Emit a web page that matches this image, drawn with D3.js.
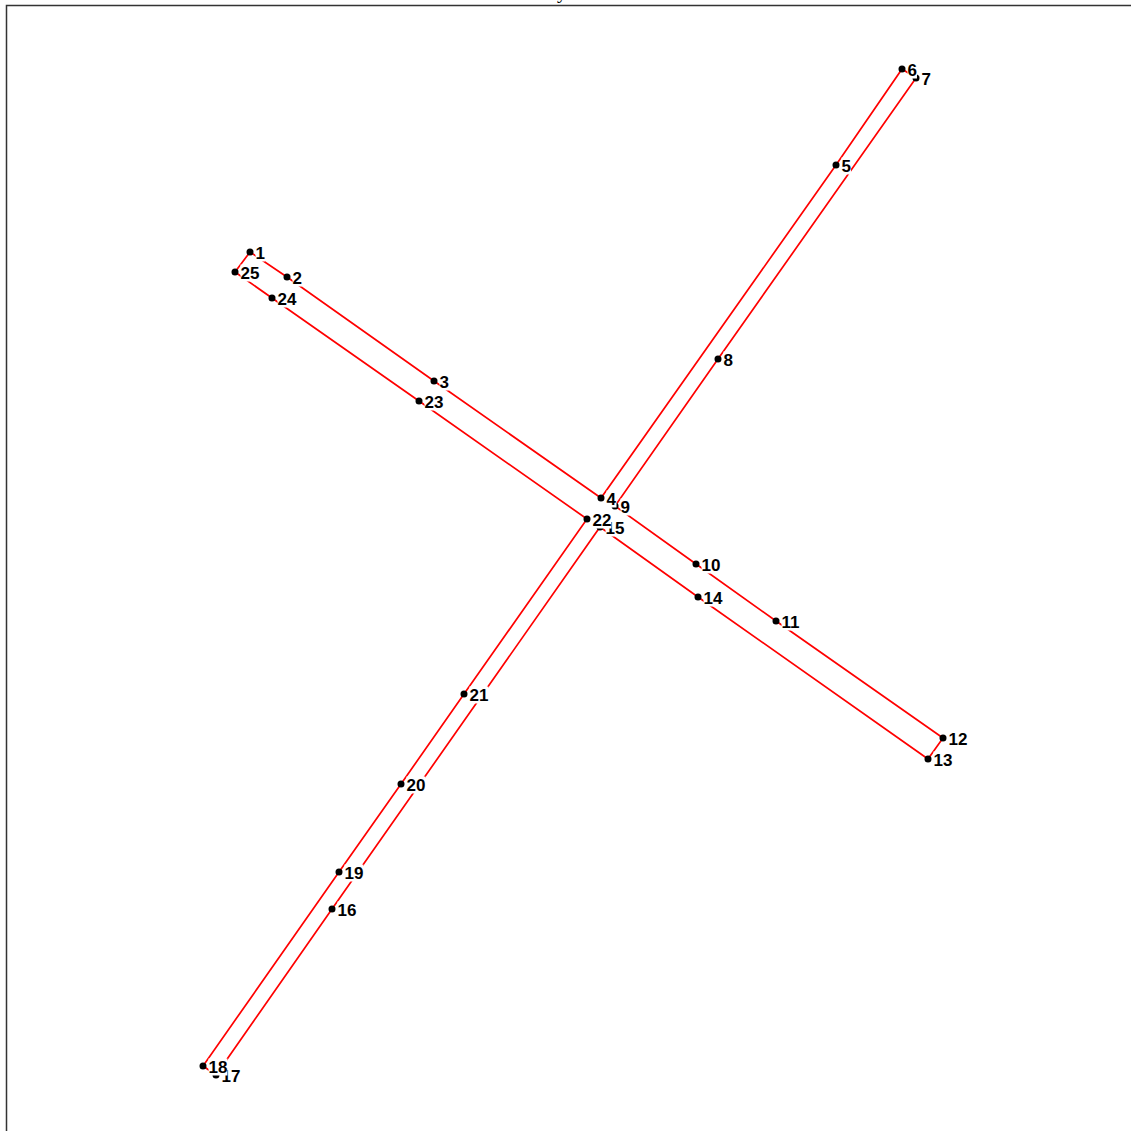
<!DOCTYPE html>
<html><head><meta charset="utf-8">
<script src="https://cdn.jsdelivr.net/npm/d3@7"></script>
<style>html,body{margin:0;padding:0;background:#fff;}svg{display:block;}</style>
</head><body>
<script>
const labels = ["1","2","3","4","5","6","7","8","9","10","11","12","13","14","15","16","17","18","19","20","21","22","23","24","25"];
const xs = [-6.32,-5.58,-2.64,0.70,5.40,6.72,7.00,3.04,0.98,2.60,4.20,7.54,7.24,2.64,0.68,-4.68,-7.00,-7.26,-4.54,-3.30,-2.04,0.42,-2.94,-5.88,-6.62];
const ys = [6.28,5.78,3.70,1.36,8.02,9.94,9.76,4.14,1.20,0.04,-1.10,-3.44,-3.86,-0.62,0.78,-6.86,-10.18,-10.00,-6.12,-4.36,-2.56,0.94,3.30,5.36,5.88];
const title = "y";

const W = 1131, H = 1131;
const svg = d3.select("body").append("svg").attr("width", W).attr("height", H);
const x = d3.scaleLinear().domain([-11.18, 11.44]).range([7, 1138]);
const y = d3.scaleLinear().domain([-11.3, 11.22]).range([1131, 5]);

const pts = labels.map((l,i)=>({l, x:xs[i], y:ys[i]}));

// frame
svg.append("rect").attr("x",6.5).attr("y",5.5).attr("width",3000).attr("height",3000)
  .attr("fill","none").attr("stroke","#333").attr("stroke-width",1.5);
svg.append("text").attr("x",562).attr("y",-2).attr("text-anchor","middle")
  .attr("font-family","Liberation Serif").attr("font-size",20).text(title);

const line = d3.line().x(d=>x(d.x)).y(d=>y(d.y)).curve(d3.curveLinearClosed);
svg.append("path").attr("d", line(pts)).attr("fill","none").attr("stroke","#ff0000").attr("stroke-width",1.7);

svg.selectAll("circle").data(pts).join("circle")
  .attr("cx",d=>x(d.x)).attr("cy",d=>y(d.y)).attr("r",3.5).attr("fill","#000");

const g = svg.append("g");
pts.forEach(d=>{
  const gg = g.append("g");
  const t = gg.append("text").attr("x",x(d.x)+5.5).attr("y",y(d.y)+6.5)
    .attr("font-family","Liberation Sans, Arial, sans-serif").attr("font-weight","bold")
    .attr("font-size",17).attr("fill","#000").text(d.l);
  const bb = t.node().getBBox();
  gg.insert("rect","text").attr("x",bb.x).attr("y",bb.y+1).attr("width",bb.width).attr("height",bb.height-2).attr("fill","#fff");
});
</script>
</body></html>
